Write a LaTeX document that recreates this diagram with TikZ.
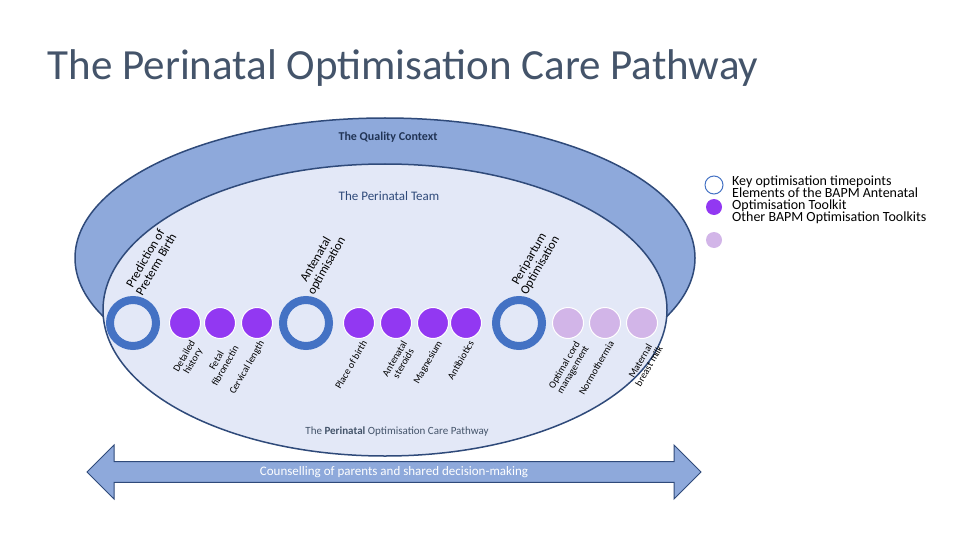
\documentclass[tikz,border=0pt]{standalone}
\usepackage{fontspec}
\setmainfont{Carlito}
\usetikzlibrary{shapes.arrows}
\definecolor{outerblue}{HTML}{8EA9DB}
\definecolor{innerblue}{HTML}{E3E8F7}
\definecolor{edgeblue}{HTML}{2F4A7A}
\definecolor{ringblue}{HTML}{4472C4}
\definecolor{bapm}{HTML}{9238F2}
\definecolor{other}{HTML}{D2B5E8}
\definecolor{titlegrey}{HTML}{44546A}
\tikzset{
  ring/.style={circle,draw=ringblue,line width=8pt,fill=innerblue,minimum size=46pt,inner sep=0pt},
  dotB/.style={circle,draw=white,line width=1pt,fill=bapm,minimum size=31pt,inner sep=0pt},
  dotO/.style={circle,draw=white,line width=1pt,fill=other,minimum size=31pt,inner sep=0pt},
  lab/.style={font=\fontsize{10}{10}\selectfont,align=center,rotate=60,anchor=north east,inner sep=1pt},
  tlab/.style={font=\fontsize{12.5}{12.5}\selectfont,align=center,rotate=60,anchor=south west,inner sep=1pt}
}
\begin{document}
\begin{tikzpicture}[x=1pt,y=-1pt]
\useasboundingbox (0,0) rectangle (960,540);
\node[anchor=west,text=titlegrey,font=\fontsize{43}{43}\selectfont] (title) at (44,68) {The Perinatal Optimisation Care Pathway};
% ellipses
\fill[outerblue,draw=edgeblue,line width=1.5pt] (385,258) ellipse (310 and 140);
\fill[innerblue,draw=edgeblue,line width=1.5pt] (385,310) ellipse (282 and 146);
\node[font=\bfseries\fontsize{12}{12}\selectfont,text=edgeblue!70!black] (qc) at (388,137) {The Quality Context};
\node[font=\fontsize{13}{13}\selectfont,text=edgeblue] (pt) at (389,196) {The Perinatal Team};
\node[font=\fontsize{11}{11}\selectfont,text=titlegrey] (pw) at (397,432) {The \textbf{Perinatal} Optimisation Care Pathway};
% arrow
\node[double arrow,double arrow head extend=10pt,fill=outerblue,draw=edgeblue,line width=1pt,
  minimum height=614pt,minimum width=54pt,inner sep=0pt,
  font=\fontsize{13}{13}\selectfont,text=white] (arr) at (394,472) {Counselling of parents and shared decision-making};
% timepoints
\node[ring] (r1) at (133,323) {};
\node[ring] (r2) at (306,323) {};
\node[ring] (r3) at (519,323) {};
\node[dotB] (d1) at (185,323) {};
\node[dotB] (d2) at (220,323) {};
\node[dotB] (d3) at (257,323) {};
\node[dotB] (d4) at (359,323) {};
\node[dotB] (d5) at (396,323) {};
\node[dotB] (d6) at (433,323) {};
\node[dotB] (d7) at (466,323) {};
\node[dotO] (d8) at (568,323) {};
\node[dotO] (d9) at (605,323) {};
\node[dotO] (d10) at (642,323) {};
% labels
\node[tlab] at (143,298) {Prediction of\\Preterm Birth};
\node[tlab] at (316,298) {Antenatal\\optimisation};
\node[tlab] at (529,298) {Peripartum\\Optimisation};
\node[lab] at (189,338) {Detailed\\history};
\node[lab] at (224,338) {Fetal\\fibronectin};
\node[lab] at (258,338) {Cervical length};
\node[lab] at (361,338) {Place of birth};
\node[lab] at (401,338) {Antenatal\\steroids};
\node[lab] at (436,338) {Magnesium};
\node[lab] at (468,338) {Antibiotics};
\node[lab] at (574,338) {Optimal cord\\management};
\node[lab] at (608,338) {Normothermia};
\node[lab] at (648,338) {Maternal\\breast milk};
% legend
\node[circle,draw=ringblue,line width=1pt,fill=white,minimum size=18pt,inner sep=0pt] (k1) at (714,185) {};
\node[circle,fill=bapm,minimum size=16pt,inner sep=0pt] (k2) at (714,207) {};
\node[circle,fill=other,minimum size=16pt,inner sep=0pt] (k3) at (714,240) {};
\node[anchor=north west,align=left,inner sep=0pt] (kt) at (732,176)
  {\fontsize{14}{19.5}\selectfont Key optimisation timepoints\\
   \fontsize{14}{19.5}\selectfont Elements of the BAPM Antenatal\\
   \fontsize{14}{19.5}\selectfont Optimisation Toolkit\\
   \fontsize{14}{19.5}\selectfont Other BAPM Optimisation Toolkits};
\end{tikzpicture}
\end{document}
